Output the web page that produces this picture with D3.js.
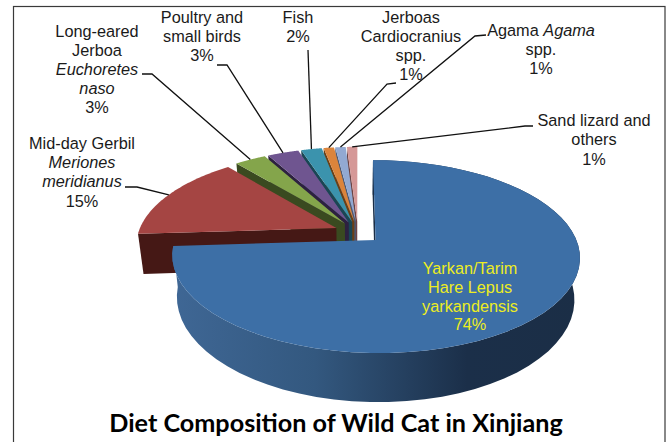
<!DOCTYPE html>
<html>
<head>
<meta charset="utf-8">
<script src="https://cdn.jsdelivr.net/npm/d3@7"></script>
<style>
  html, body { margin: 0; padding: 0; background: #fff; }
  svg { display: block; }
  text { font-family: "Liberation Sans", Arial, sans-serif; font-size: 16.3px; fill: #1a1a1a; }
</style>
</head>
<body>
<script>
// values, in drawing order clockwise from twelve o'clock
var categories = ["Yarkan/Tarim Hare", "Mid-day Gerbil", "Long-eared Jerboa", "Poultry and small birds",
                  "Fish", "Jerboas", "Agama", "Sand lizard and others"];
var shares = [74, 15, 3, 3, 2, 1, 1, 1];
var topColors = ["#3d6fa6", "#a54543", "#84a54b", "#6f5590", "#3b93ad", "#dc843b", "#92a9d2", "#d59897"];
var sideColors = ["#1b2e46", "#451815", "#3a4a20", "#2d2140", "#1a4654", "#6b3f15", "#4a5a78", "#6e4444"];

// label text, one entry per line, "*" marks italic pieces
var labelLines = [
  ["Yarkan/Tarim", "Hare Lepus", "yarkandensis", "74%"],
  ["Mid-day Gerbil", "*Meriones", "*meridianus", "15%"],
  ["Long-eared", "Jerboa", "*Euchoretes", "*naso", "3%"],
  ["Poultry and", "small birds", "3%"],
  ["Fish", "2%"],
  ["Jerboas", "Cardiocranius", "spp.", "1%"],
  ["Agama *Agama", "spp.", "1%"],
  ["Sand lizard and", "others", "1%"]
];
var labelX = [470, 82, 97, 202, 298, 411, 541, 594];
var labelY = [274, 149, 36.7, 22.7, 22.7, 22.7, 36, 126];
var labelStep = [18.8, 19.2, 19.1, 19.2, 19.2, 19.2, 19.2, 19.4];
// leader elbows: text end, then bend; the last point comes from the slice rim
var leaderElbows = [
  null,
  [[125, 187], [137, 187]],
  [[142, 74], [152, 74]],
  [[217, 65], [227, 65]],
  [[308, 50]],
  [[396, 83], [387, 84]],
  [[486, 35], [475, 36]],
  [[533, 126], [525, 126]]
];
var titleText = "Diet Composition of Wild Cat in Xinjiang";

var width = 667, height = 442;
var svg = d3.select("body").append("svg").attr("width", width).attr("height", height);

svg.append("rect").attr("x", 13.5).attr("y", 6.5).attr("width", 651.5).attr("height", 450)
  .attr("fill", "#fff").attr("stroke", "#3a3a3a").attr("stroke-width", 1.2);

// tilted disc: unit plane (u, v) goes through a small perspective
var x0 = 358, y0 = 232.4, rx = 198, ry = 91, persp = 0.17, depth = 40, shrink = 0.975, explode = 0.12;

function project(u, v, lower) {
  var w = 1 + persp * v;
  var scale = lower ? shrink : 1;
  return [x0 + scale * rx * u / w, y0 - ry * v / w + (lower ? depth / w : 0)];
}

var slices = d3.pie().sort(null).value(function(d) { return d; })(shares);

slices.forEach(function(s) {
  var mid = (s.startAngle + s.endAngle) / 2;
  s.ou = explode * Math.sin(mid);
  s.ov = explode * Math.cos(mid);
});

function rim(s, a, lower) {
  return project(s.ou + Math.sin(a), s.ov + Math.cos(a), lower);
}
function arcAngles(s) {
  return d3.range(0, 61).map(function(i) { return s.startAngle + (s.endAngle - s.startAngle) * i / 60; });
}

var line = d3.line();

var defs = svg.append("defs");
var rimGrad = defs.append("linearGradient").attr("id", "rimGrad")
  .attr("gradientUnits", "userSpaceOnUse").attr("x1", 172).attr("x2", 582).attr("y1", 0).attr("y2", 0);
[[0, "#3f6795"], [0.35, "#33587f"], [0.72, "#1b2f49"], [1, "#1b2e46"]].forEach(function(d) {
  rimGrad.append("stop").attr("offset", d[0]).attr("stop-color", d[1]);
});

var pie3d = svg.append("g");
// back slices first, the big blue one last
d3.range(slices.length - 1, -1, -1).forEach(function(i) {
  var s = slices[i];
  var angles = arcAngles(s);
  var top = angles.map(function(a) { return rim(s, a, false); });
  var apex = project(s.ou, s.ov, false);
  var apexLow = project(s.ou, s.ov, true);

  if (i === 0) {
    var low = angles.map(function(a) { return rim(s, a, true); }).reverse();
    pie3d.append("path").attr("d", line(top.concat(low)) + "Z").attr("fill", "url(#rimGrad)");
  }
  // cut face under the slice's first edge
  pie3d.append("path")
    .attr("d", line([apex, top[0], rim(s, s.startAngle, true), apexLow]) + "Z")
    .attr("fill", sideColors[i]);
  pie3d.append("path")
    .attr("d", line([apex].concat(top)) + "Z")
    .attr("fill", topColors[i]);
});

// leaders
leaderElbows.forEach(function(elbow, i) {
  if (!elbow) return;
  var s = slices[i];
  var pts = elbow.concat([rim(s, (s.startAngle + s.endAngle) / 2, false)]);
  svg.append("path").attr("d", line(pts)).attr("fill", "none")
    .attr("stroke", "#111").attr("stroke-width", 1.3);
});

// labels
labelLines.forEach(function(lines, i) {
  lines.forEach(function(txt, j) {
    var t = svg.append("text")
      .attr("x", labelX[i])
      .attr("y", labelY[i] + j * labelStep[i])
      .attr("text-anchor", "middle");
    if (i === 0) t.style("fill", "#eded1f");
    txt.split("*").forEach(function(piece, k) {
      if (piece) t.append("tspan").attr("font-style", k > 0 ? "italic" : "normal").text(piece);
    });
  });
});

svg.append("text").attr("x", 336).attr("y", 432).attr("text-anchor", "middle")
  .style("font-family", "Lato, sans-serif").style("font-weight", 700).style("font-size", "25.2px").style("fill", "#000")
  .text(titleText);
</script>
</body>
</html>
